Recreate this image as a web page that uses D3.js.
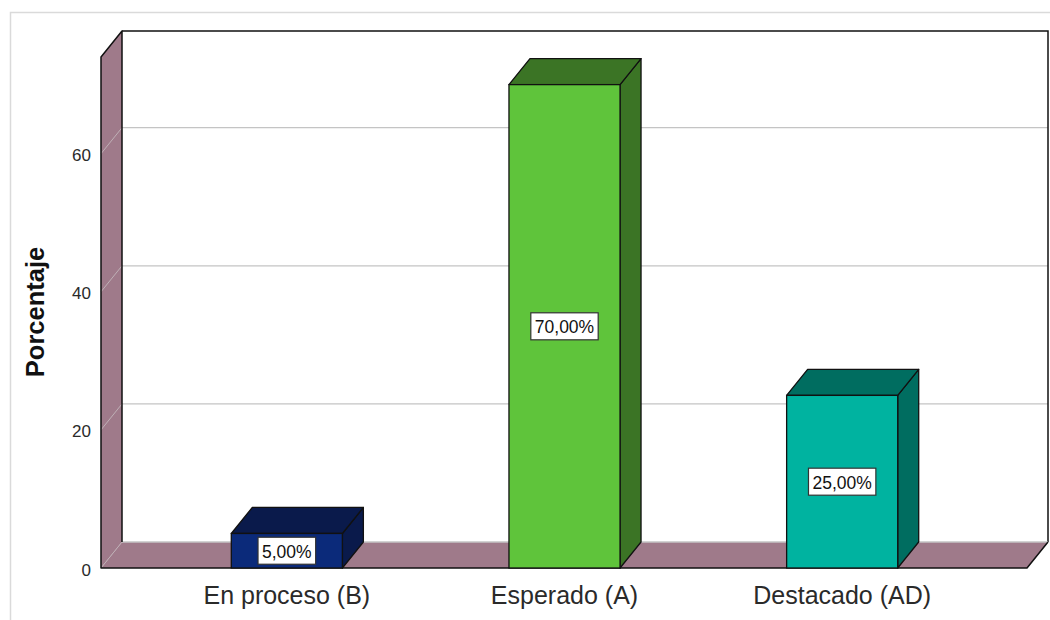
<!DOCTYPE html>
<html>
<head>
<meta charset="utf-8">
<script src="https://cdn.jsdelivr.net/npm/d3@7"></script>
<style>
  html, body { margin: 0; padding: 0; background: #fff; }
  svg { display: block; font-family: "Liberation Sans", Arial, sans-serif; }
</style>
</head>
<body>
<svg id="chart" width="1050" height="620"></svg>
<script>
// Data
const categories = ["En proceso (B)", "Esperado (A)", "Destacado (AD)"];
const percentages = [5, 70, 25];
const valueLabels = ["5,00%", "70,00%", "25,00%"];
const yTicks = [0, 20, 40, 60];
const frontColors = ["#0b2a7a", "#5fc43b", "#00b3a0"];
const shadeColors = ["#0a1a4b", "#3b7425", "#006d60"];

const svg = d3.select("#chart");

// Pseudo-3D depth offset
const dx = 21, dy = 26;

// Scales in front-plane coordinates
const y = d3.scaleLinear().domain([0, 74]).range([568, 57]);
const x = d3.scaleBand().domain(categories)
  .range([148, 981]).paddingInner(0.6).paddingOuter(0.3);

const left = 101, right = 1027;
const y0 = y(0), yTop = y.range()[1];
const line = d3.line();

// Outer frame
svg.append("path").attr("d", "M10.5,620 L10.5,12.5 L1050,12.5")
  .attr("fill", "none").attr("stroke", "#dadada").attr("stroke-width", 1.5);

// Back wall
svg.append("rect")
  .attr("x", left + dx).attr("y", yTop - dy)
  .attr("width", right - left).attr("height", y0 - yTop)
  .attr("fill", "#fff");

// Back-wall gridlines
svg.append("g").selectAll("line").data(yTicks.filter(t => t > 0)).join("line")
  .attr("x1", left + dx).attr("x2", right + dx)
  .attr("y1", d => y(d) - dy).attr("y2", d => y(d) - dy)
  .attr("stroke", "#c4c4c4").attr("stroke-width", 1.2);

// Back-wall outline (top and right)
svg.append("path")
  .attr("d", line([[left + dx, yTop - dy], [right + dx, yTop - dy], [right + dx, y0 - dy]]))
  .attr("fill", "none").attr("stroke", "#111").attr("stroke-width", 1.5);

// Left wall
const wallColor = "#9f7a8a";
svg.append("path")
  .attr("d", line([[left, y0], [left, yTop], [left + dx, yTop - dy], [left + dx, y0 - dy]]) + "Z")
  .attr("fill", wallColor);

// Floor
svg.append("path")
  .attr("d", line([[left, y0], [left + dx, y0 - dy], [right + dx, y0 - dy], [right, y0]]) + "Z")
  .attr("fill", wallColor);

// Gridlines across the left wall and the floor's back edge
svg.append("g").selectAll("line").data(yTicks).join("line")
  .attr("x1", left).attr("y1", d => y(d))
  .attr("x2", left + dx).attr("y2", d => y(d) - dy)
  .attr("stroke", "#bfb0b6").attr("stroke-width", 1);
svg.append("line")
  .attr("x1", left + dx).attr("x2", right + dx)
  .attr("y1", y0 - dy).attr("y2", y0 - dy)
  .attr("stroke", "#c4c4c4").attr("stroke-width", 1.5);

// Dark outlines of left wall and floor front
svg.append("path")
  .attr("d", line([[left + dx, y0 - dy], [left + dx, yTop - dy], [left, yTop], [left, y0], [right, y0], [right + dx, y0 - dy]]))
  .attr("fill", "none").attr("stroke", "#111").attr("stroke-width", 1.5)
  .attr("stroke-linejoin", "round");

// Bars
const bw = x.bandwidth();
const bars = svg.append("g").selectAll("g").data(categories).join("g");
bars.each(function (c, i) {
  const g = d3.select(this);
  const bx = x(c), yv = y(percentages[i]);
  g.append("path") // side
    .attr("d", line([[bx + bw, yv], [bx + bw + dx, yv - dy], [bx + bw + dx, y0 - dy], [bx + bw, y0]]) + "Z")
    .attr("fill", shadeColors[i]).attr("stroke", "#111").attr("stroke-width", 1.3)
    .attr("stroke-linejoin", "round");
  g.append("path") // top
    .attr("d", line([[bx, yv], [bx + dx, yv - dy], [bx + bw + dx, yv - dy], [bx + bw, yv]]) + "Z")
    .attr("fill", shadeColors[i]).attr("stroke", "#111").attr("stroke-width", 1.3)
    .attr("stroke-linejoin", "round");
  g.append("rect") // front
    .attr("x", bx).attr("y", yv).attr("width", bw).attr("height", y0 - yv)
    .attr("fill", frontColors[i]).attr("stroke", "#111").attr("stroke-width", 1.3);

  // Value label in a boxed tag
  const cx = bx + bw / 2, cy = (yv + y0) / 2;
  const box = g.append("rect");
  const t = g.append("text")
    .attr("x", cx).attr("y", cy + 1)
    .attr("text-anchor", "middle").attr("dominant-baseline", "central")
    .attr("font-size", 17.5).attr("fill", "#111")
    .text(valueLabels[i]);
  const w = t.node().getComputedTextLength() + 8, h = 27;
  box.attr("x", cx - w / 2).attr("y", cy - h / 2).attr("width", w).attr("height", h)
    .attr("fill", "#fff").attr("stroke", "#333").attr("stroke-width", 1.2);
});

// Category labels
svg.append("g").selectAll("text").data(categories).join("text")
  .attr("x", d => x(d) + bw / 2).attr("y", 604)
  .attr("text-anchor", "middle").attr("font-size", 25).attr("fill", "#2a2a2a")
  .text(d => d);

// Y tick labels
svg.append("g").selectAll("text").data(yTicks).join("text")
  .attr("x", 91).attr("y", d => y(d) + 2)
  .attr("text-anchor", "end").attr("dominant-baseline", "central")
  .attr("font-size", 17).attr("fill", "#2a2a2a")
  .text(d => d);

// Y axis title
svg.append("text")
  .attr("transform", "translate(35,312) rotate(-90)")
  .attr("text-anchor", "middle").attr("dominant-baseline", "central")
  .attr("font-size", 25.5).attr("font-weight", "bold").attr("fill", "#111")
  .text("Porcentaje");
</script>
</body>
</html>
